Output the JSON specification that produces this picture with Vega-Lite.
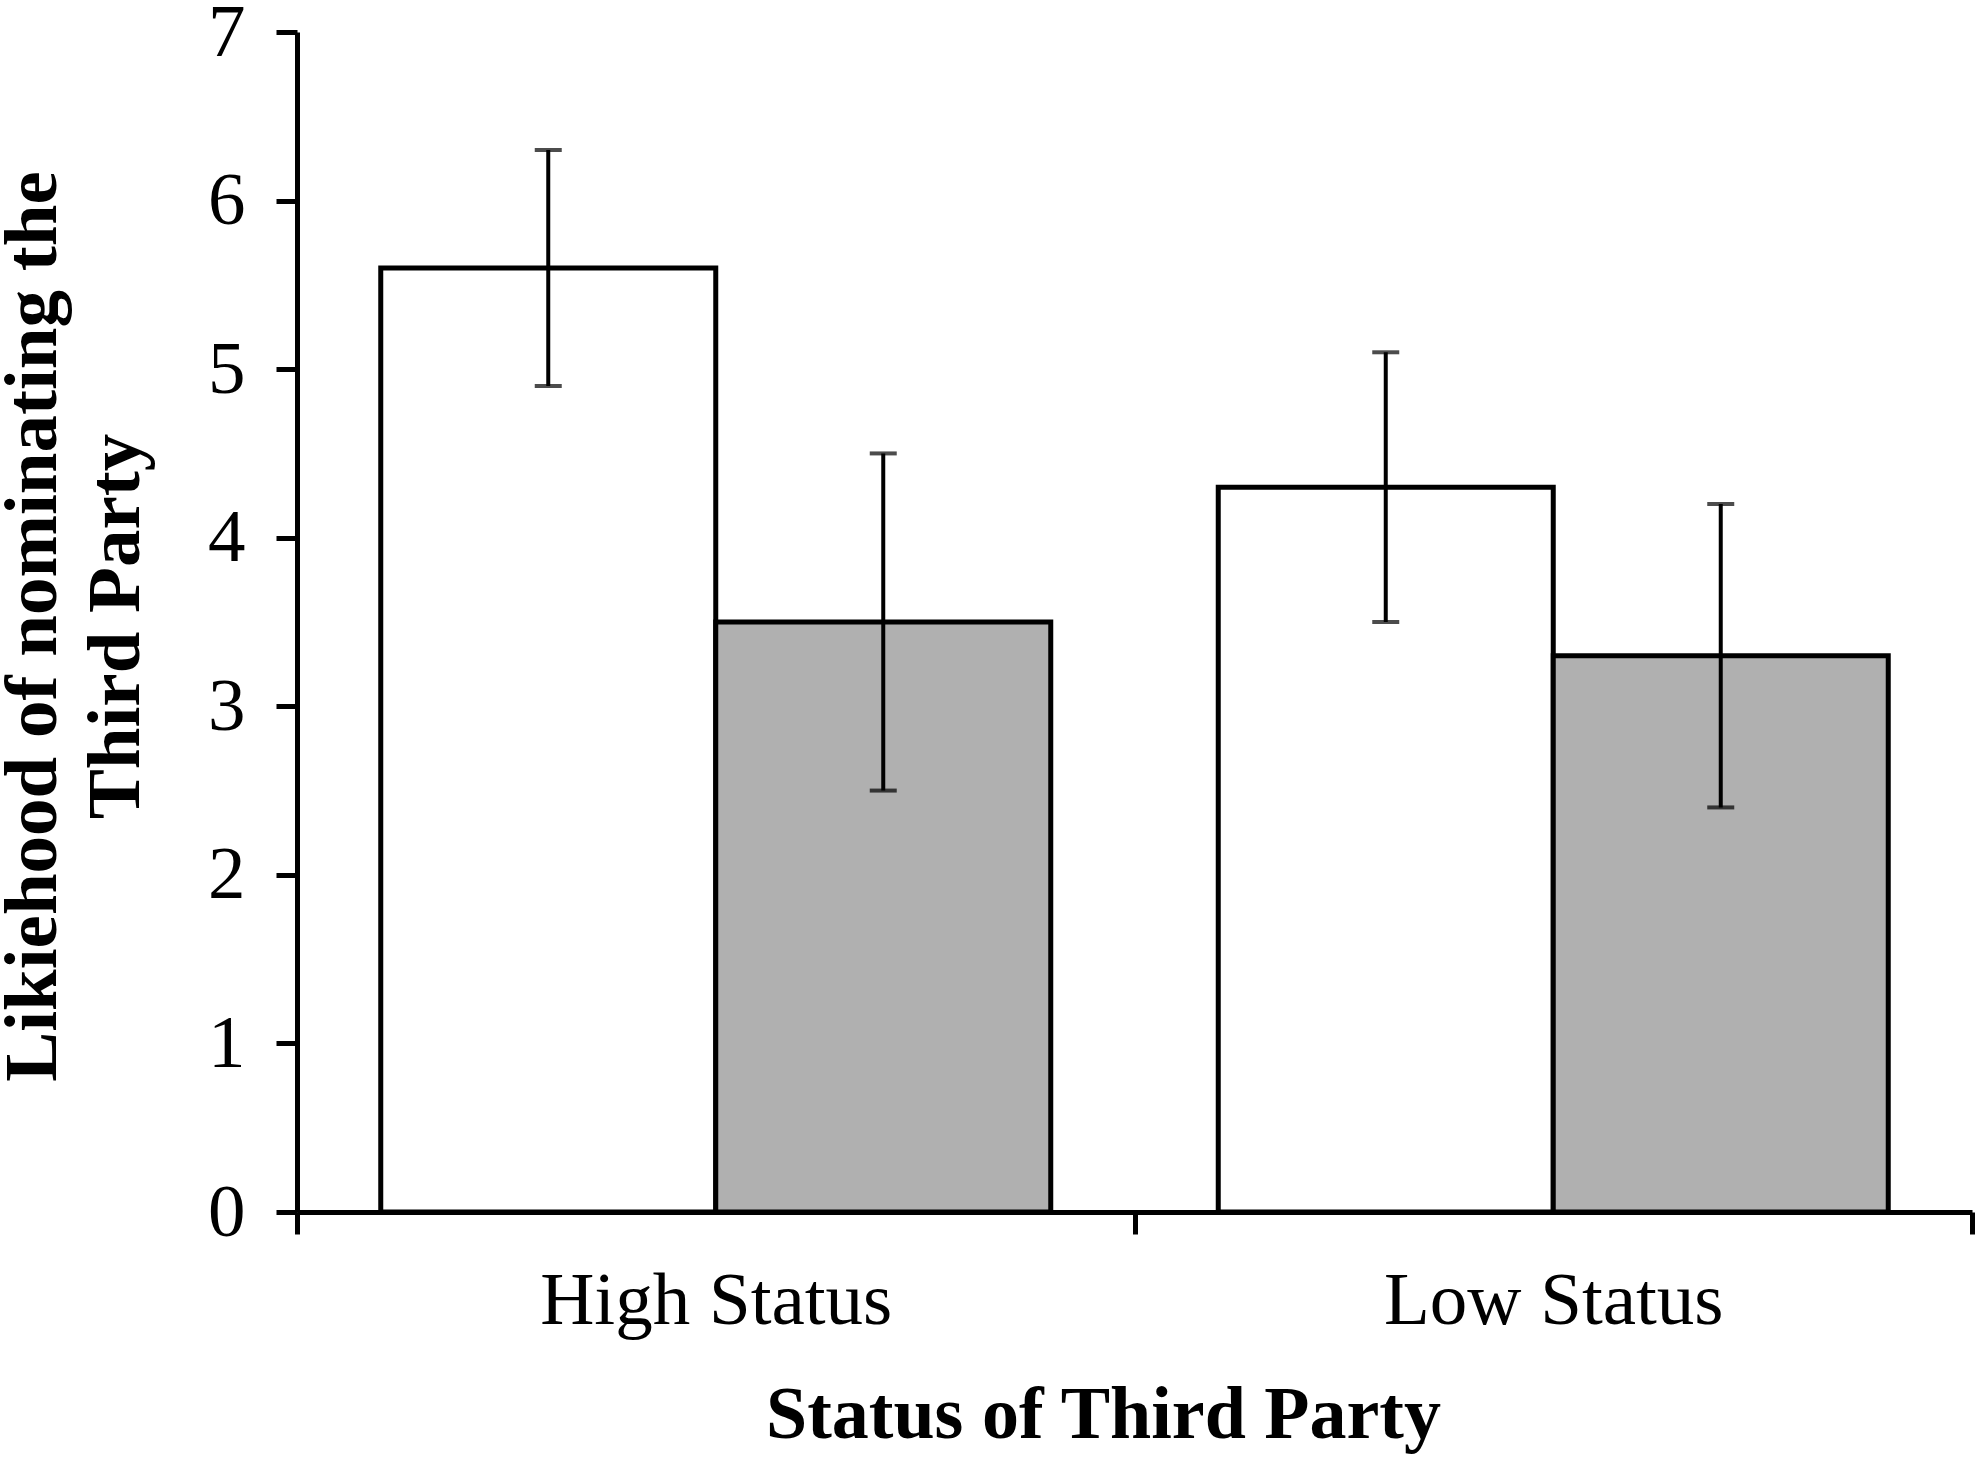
{
  "$schema": "https://vega.github.io/schema/vega-lite/v6.json",
  "width": 1675,
  "height": 1180,
  "autosize": {"type": "none"},
  "padding": {"left": 297, "top": 32, "right": 8, "bottom": 247},
  "background": "white",
  "config": {
    "view": {"stroke": null},
    "font": "Liberation Serif"
  },
  "data": {
    "values": [
      {"group": "High Status", "cond": "Condition 1", "mean": 5.6, "lo": 4.9, "hi": 6.3},
      {"group": "High Status", "cond": "Condition 2", "mean": 3.5, "lo": 2.5, "hi": 4.5},
      {"group": "Low Status", "cond": "Condition 1", "mean": 4.3, "lo": 3.5, "hi": 5.1},
      {"group": "Low Status", "cond": "Condition 2", "mean": 3.3, "lo": 2.4, "hi": 4.2}
    ]
  },
  "encoding": {
    "x": {
      "field": "group",
      "type": "nominal",
      "sort": ["High Status", "Low Status"],
      "scale": {"paddingInner": 0, "paddingOuter": 0},
      "axis": {
        "title": "Status of Third Party",
        "labelAngle": 0,
        "labelLimit": 0,
        "labelFont": "Liberation Serif",
        "labelFontSize": 75,
        "labelColor": "black",
        "labelPadding": 30,
        "tickBand": "extent",
        "tickSize": 22,
        "tickWidth": 5,
        "tickColor": "black",
        "domainWidth": 5,
        "domainColor": "black",
        "titleFont": "Liberation Serif",
        "titleFontSize": 74,
        "titleFontWeight": "bold",
        "titleColor": "black",
        "titleX": 806,
        "titleY": 225,
        "titleAlign": "center",
        "titleBaseline": "alphabetic"
      }
    },
    "xOffset": {
      "field": "cond",
      "type": "nominal",
      "scale": {"paddingInner": 0, "paddingOuter": 0.25}
    }
  },
  "layer": [
    {
      "mark": {"type": "bar", "stroke": "black", "strokeWidth": 5},
      "encoding": {
        "y": {
          "field": "mean",
          "type": "quantitative",
          "stack": null,
          "scale": {"domain": [0, 7], "nice": false},
          "axis": {
            "title": ["Likiehood of nominating the", "Third Party"],
            "values": [0, 1, 2, 3, 4, 5, 6, 7],
            "format": "d",
            "grid": false,
            "labelFont": "Liberation Serif",
            "labelFontSize": 75,
            "labelColor": "black",
            "labelPadding": 31,
            "tickSize": 21,
            "tickWidth": 5,
            "tickColor": "black",
            "domainWidth": 5,
            "domainColor": "black",
            "titleFont": "Liberation Serif",
            "titleFontSize": 75,
            "titleFontWeight": "bold",
            "titleColor": "black",
            "titleLineHeight": 83,
            "titleAngle": -90,
            "titleX": -242,
            "titleY": 594,
            "titleAlign": "center",
            "titleBaseline": "alphabetic"
          }
        },
        "fill": {
          "field": "cond",
          "type": "nominal",
          "scale": {"domain": ["Condition 1", "Condition 2"], "range": ["#ffffff", "#b0b0b0"]},
          "legend": null
        }
      }
    },
    {
      "mark": {"type": "rule", "color": "black", "strokeWidth": 4},
      "encoding": {
        "y": {"field": "lo", "type": "quantitative"},
        "y2": {"field": "hi"}
      }
    },
    {
      "mark": {"type": "tick", "color": "black", "thickness": 4, "size": 27, "orient": "horizontal"},
      "encoding": {
        "y": {"field": "lo", "type": "quantitative"}
      }
    },
    {
      "mark": {"type": "tick", "color": "black", "thickness": 4, "size": 27, "orient": "horizontal"},
      "encoding": {
        "y": {"field": "hi", "type": "quantitative"}
      }
    }
  ]
}
